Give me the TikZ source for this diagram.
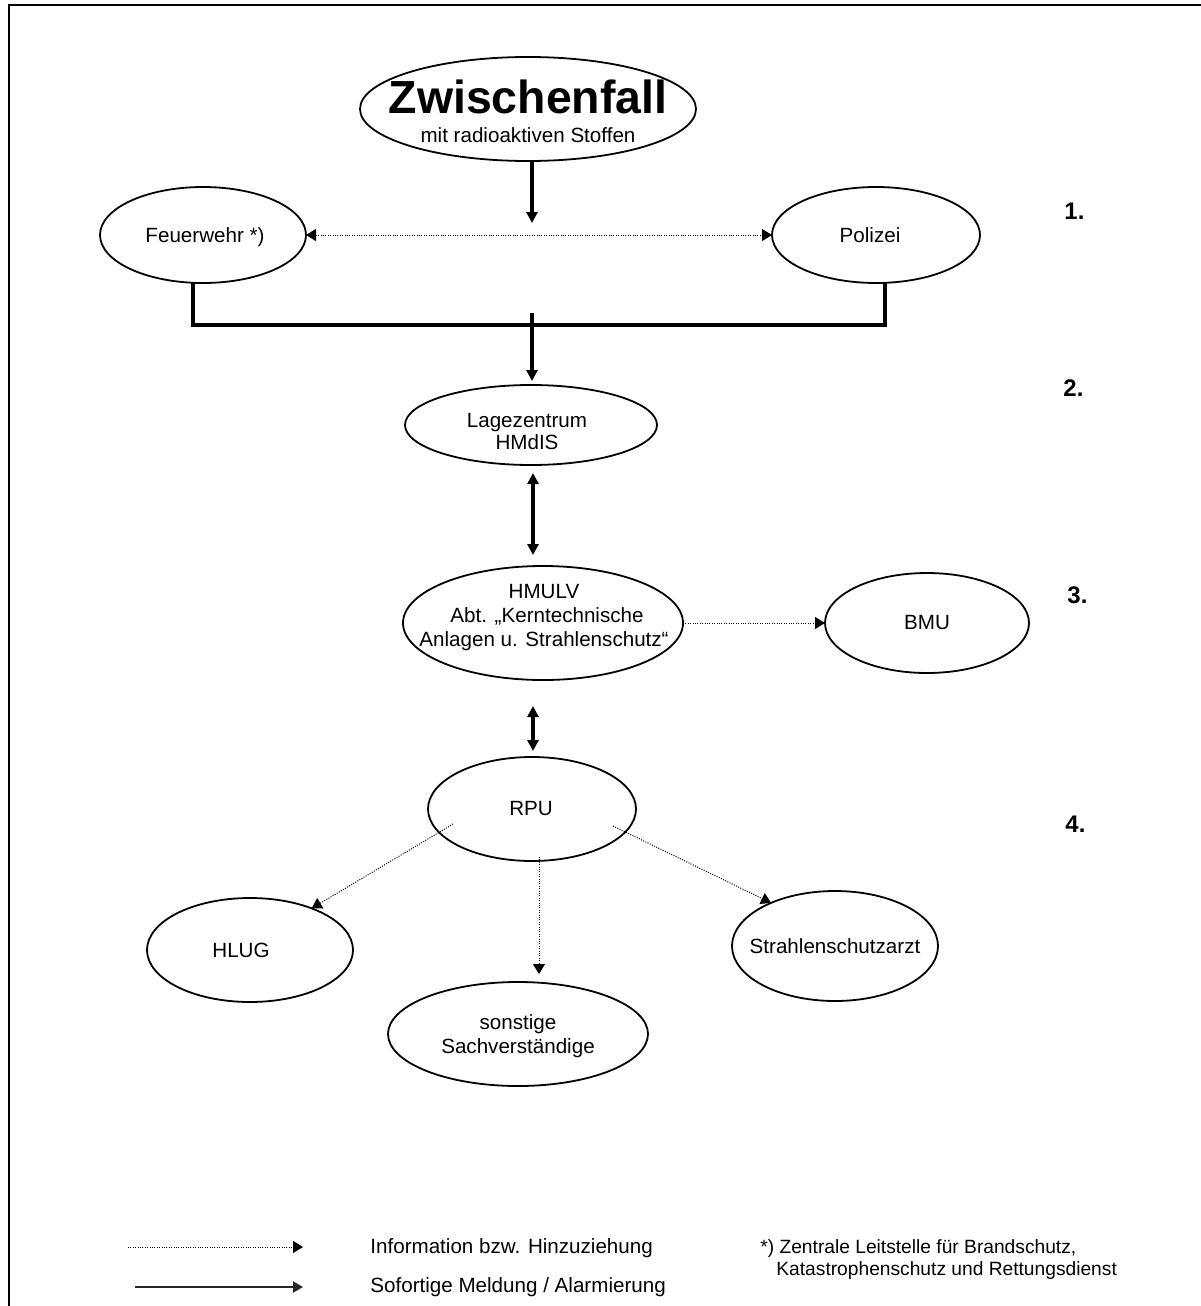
\documentclass[tikz,border=0pt]{standalone}
\usepackage{fontspec}
\setmainfont{Liberation Sans}
\usetikzlibrary{arrows.meta,shapes.geometric}
\begin{document}
\begin{tikzpicture}[x=0.5pt,y=-0.5pt,
  ell/.style={draw, ellipse, line width=0.9pt, inner sep=0pt, outer sep=0pt},
  txt/.style={inner sep=0pt, anchor=base, font=\fontsize{10.3}{12}\selectfont},
  leg/.style={inner sep=0pt, anchor=base west, font=\fontsize{10.3}{12}\selectfont},
  foot/.style={inner sep=0pt, anchor=base west, font=\fontsize{9.6}{11}\selectfont},
  num/.style={inner sep=0pt, anchor=base west, font=\fontsize{12}{14}\selectfont\bfseries},
  heavy/.style={line width=2.2pt},
  heavyarrow/.style={line width=2.2pt, -{Triangle[length=5.5pt,width=5.5pt]}},
  heavyboth/.style={line width=2.2pt, {Triangle[length=5.5pt,width=5.5pt]}-{Triangle[length=5.5pt,width=5.5pt]}},
  info/.style={line width=0.5pt, dash pattern=on 0.5pt off 0.7pt, -{Triangle[length=5pt,width=6pt]}},
  infoboth/.style={line width=0.5pt, dash pattern=on 0.5pt off 0.7pt, {Triangle[length=5pt,width=6pt]}-{Triangle[length=5pt,width=6pt]}},
  legsolid/.style={line width=1pt, black!85, -{Triangle[length=5pt,width=5.5pt]}}
]
\useasboundingbox (0,0) rectangle (1200,1306);
% frame
\draw[line width=1pt] (9,1340) -- (9,5) -- (1240,5);

% ellipses
\node[ell, minimum width=168pt, minimum height=52pt] (zw) at (528,109) {};
\node[ell, minimum width=103pt, minimum height=48pt] (feuer) at (203,235) {};
\node[ell, minimum width=104pt, minimum height=48pt] (pol) at (876,235) {};
\node[ell, minimum width=126pt, minimum height=40pt] (lage) at (531,425) {};
\node[ell, minimum width=140pt, minimum height=57pt] (hmulv) at (543,623) {};
\node[ell, minimum width=102pt, minimum height=50pt] (bmu) at (927,623) {};
\node[ell, minimum width=104pt, minimum height=52pt] (rpu) at (532,809) {};
\node[ell, minimum width=103pt, minimum height=52pt] (hlug) at (250,950) {};
\node[ell, minimum width=130pt, minimum height=52pt] (sonst) at (518,1034) {};
\node[ell, minimum width=103pt, minimum height=55pt] (arzt) at (835,946) {};

% texts
\node[txt, font=\fontsize{23.2}{26}\selectfont\bfseries] (tzw1) at (528,113) {Zwischenfall};
\node[txt] (tzw2) at (528,142) {mit radioaktiven Stoffen};
\node[txt] (tfeuer) at (205,242) {Feuerwehr *)};
\node[txt] (tpol) at (870,242) {Polizei};
\node[txt] (tlage1) at (527,427) {Lagezentrum};
\node[txt] (tlage2) at (527,449) {HMdIS};
\node[txt] (thm1) at (544,598) {HMULV};
\node[txt] (thm2) at (547,622) {Abt. „Kerntechnische};
\node[txt] (thm3) at (544,646) {Anlagen u. Strahlenschutz“};
\node[txt] (tbmu) at (927,629) {BMU};
\node[txt] (trpu) at (531,815) {RPU};
\node[txt] (thlug) at (241,957) {HLUG};
\node[txt] (tsonst1) at (518,1029) {sonstige};
\node[txt] (tsonst2) at (518,1053) {Sachverständige};
\node[txt] (tarzt) at (835,953) {Strahlenschutzarzt};

% level numbers
\node[num] (n1) at (1064,219) {1.};
\node[num] (n2) at (1063,396) {2.};
\node[num] (n3) at (1067,603) {3.};
\node[num] (n4) at (1065,832) {4.};

% connectors
\coordinate (zt) at (532,223);
\draw[heavyarrow] (zw.south -| zt) -- (zt);
\draw[infoboth] (feuer.east) -- (pol.west);
\coordinate (bl) at (193,325);
\coordinate (br) at (885,325);
\draw[heavy, line join=miter] (feuer.south -| bl) -- (bl) -- (br) -- (pol.south -| br);
\coordinate (tk) at (532,313);
\coordinate (lt) at (532,381);
\draw[heavyarrow] (tk) -- (lt);
\coordinate (dx) at (533,0);
\draw[heavyboth, shorten <=4pt, shorten >=5.5pt] (lage.south -| dx) -- (hmulv.north -| dx);
\draw[info] (hmulv.east) -- (bmu.west);
\draw[heavyboth, shorten <=13pt, shorten >=3pt] (hmulv.south -| dx) -- (rpu.north -| dx);
\coordinate (r1) at (453,824);
\coordinate (r2) at (539,857);
\coordinate (r3) at (613,826);
\draw[info] (r1) -- (hlug.34);
\draw[info, shorten >=4pt] (r2) -- (sonst.north -| r2);
\draw[info] (r3) -- (arzt.146);

% legend
\coordinate (la) at (128,1247);
\coordinate (lb) at (303,1247);
\coordinate (lc) at (135,1287);
\coordinate (ld) at (303,1287);
\draw[info] (la) -- (lb);
\draw[legsolid] (lc) -- (ld);
\node[leg] (l1) at (370,1253) {Information bzw. Hinzuziehung};
\node[leg] (l2) at (370,1292) {Sofortige Meldung / Alarmierung};
\node[foot] (l3) at (760,1253) {*) Zentrale Leitstelle für Brandschutz,};
\node[foot] (l4) at (776,1275) {Katastrophenschutz und Rettungsdienst};
\end{tikzpicture}
\end{document}
